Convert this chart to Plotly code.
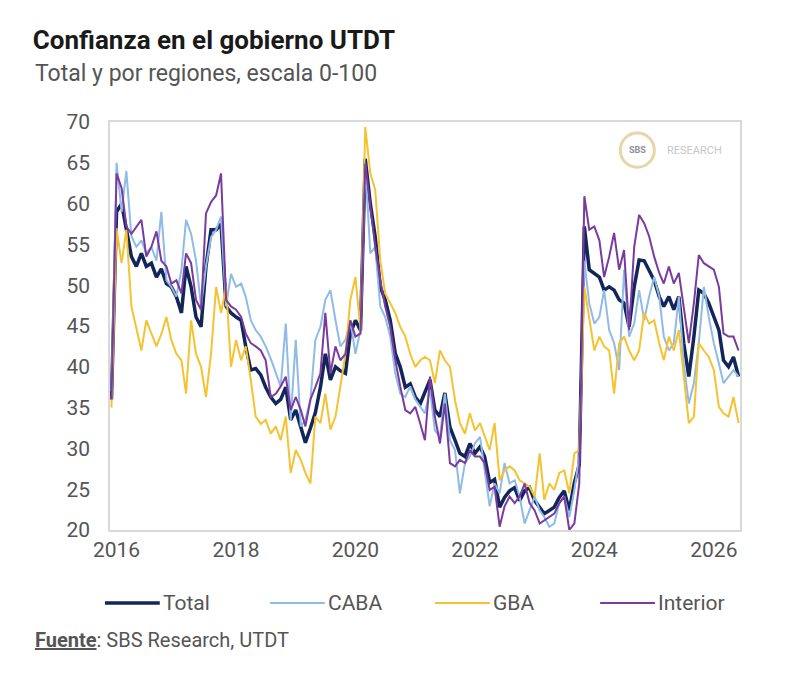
import pandas as pd
import plotly.graph_objects as go

# monthly values, Dec 2015 .. Jun 2026 (first point is the pre-change level)
months = pd.date_range("2015-12-01", periods=127, freq="MS")

total = [
    36, 59, 60, 56.8, 53.5, 52.3, 53.9, 52.3, 52.7, 51, 52, 50.2, 49.8, 48.6, 46.6, 52.3, 49.8, 46.1, 44.9, 52.3, 56.8, 56.8, 57.5, 47.4, 46.6, 46.1, 45.7, 42.5, 39.6, 39.8, 39,
    37.5, 36.3, 35.5, 36, 37.5, 33.5, 34.7, 32.6, 30.7, 32.5, 34.4, 37.5, 41.6, 38.4, 40, 39.5, 39.2, 44.1, 45.7, 44.5, 65.5, 60, 55.9, 49.8, 48.2, 45.7, 41.6, 40, 37.5, 37.9, 36.3, 35.5,
    37, 38.4, 34.7, 33.9, 36.8, 32.6, 31, 29.4, 29, 30.6, 29.4, 30.2, 29, 25.8, 26.2, 22.8, 24, 24.8, 25.2, 23.6, 24.8, 25.2, 23.6, 22.8, 22, 22.4, 22.8, 24, 24.8, 22.4, 25.8, 28,
    57.2, 51.9, 51.5, 51, 49.4, 49.8, 49.4, 48.2, 47.8, 44.9, 49.8, 53.1, 53, 51.9, 50.6, 48.6, 47.4, 48.6, 47, 48.6, 42.9, 38.8, 43.7, 49.4, 49, 47.8, 46.2, 44.5, 40.8, 40, 41.2, 38.8,
]
caba = [
    37, 65, 59, 64, 56, 54.7, 55.5, 53.9, 54.7, 53, 59, 50.6, 49.8, 48.6, 51.9, 58, 56.3, 53, 47.4, 52.3, 55.9, 56.8, 58.4, 47.4, 51.4, 49.8, 50.2, 48.6, 45.7, 44.5, 43.7,
    42.5, 41, 39.2, 37.6, 45.3, 33.5, 43.3, 32.7, 33.5, 36, 43.3, 44.9, 48.2, 49.4, 45.7, 42.5, 43.3, 45.7, 41.6, 44.5, 64.9, 53.9, 54.7, 47.4, 46.1, 43.7, 39.2, 36.7, 36.3, 37.6, 36, 35.1,
    34.3, 37.2, 32.2, 31.4, 36.7, 31, 29.8, 24.5, 28.2, 29, 30.6, 31.4, 27.3, 22.9, 25.7, 24.5, 28.2, 25.7, 26.1, 24.1, 20.8, 22.4, 24.1, 22.4, 21.6, 20.4, 20.8, 23.3, 24.1, 21.6, 24.9, 29,
    53, 47.8, 45.3, 46.1, 49.4, 44.5, 42.9, 39.6, 51.9, 43.7, 45.3, 49.4, 45.7, 48.6, 51, 48.6, 43.7, 42, 42.9, 48.6, 40.4, 35.5, 38, 42.9, 49.8, 46.1, 42.9, 40.4, 38, 38.8, 39.6, 38.8,
]
gba = [
    35, 57, 52.7, 56.8, 47.4, 44.9, 42, 45.7, 44.1, 42.5, 44, 46.1, 43.3, 41.6, 40.8, 36.7, 45.7, 41.6, 40, 36.3, 41.6, 49.8, 46.6, 49.8, 40, 43.3, 40.8, 42.5, 38.4, 33.9, 33,
    33.5, 31.8, 32.7, 31, 33.9, 27, 29.8, 28.6, 27, 25.7, 33.9, 33.1, 36.7, 32.3, 33.9, 37.6, 41.6, 48.2, 51, 44.5, 69.4, 63.7, 61.7, 53, 49, 47.8, 46.6, 44.9, 43.7, 41.6, 40, 40.8,
    41.2, 40.8, 38, 42, 40.8, 40, 35.9, 33.1, 31.8, 34.3, 32.2, 33.1, 31.4, 29.8, 33.1, 26.1, 27.3, 27.8, 27.3, 26.1, 25.7, 25.3, 24.1, 29.4, 23.7, 25.7, 24.9, 27, 27.3, 24.5, 29.4, 29.8,
    49.8, 46.1, 42, 43.7, 42.5, 42, 36.7, 42.9, 43.7, 42, 40.8, 42, 46.6, 45.3, 45.7, 42.9, 40.8, 43.7, 42, 44.5, 39.2, 33.1, 33.9, 42.9, 42, 41.2, 39.6, 35.1, 34.3, 33.9, 36.3, 33.1,
]
interior = [
    36, 63.7, 61.9, 57.2, 56.3, 57.2, 58, 53.5, 54.7, 56.6, 53, 52.3, 50.2, 50.6, 49, 53.9, 52.7, 48.2, 47, 58.8, 60.2, 61, 63.7, 48.2, 47.4, 47, 46.1, 44.1, 42.9, 42.5, 42,
    40.8, 36.3, 36.7, 37.6, 38.8, 34.7, 36.3, 34.7, 32.7, 36, 37.5, 39.2, 46.6, 39.2, 42.5, 40.8, 41.6, 45.7, 43.7, 44.1, 64.9, 60, 54.7, 50.6, 47.4, 44.9, 40.8, 37.6, 34.7, 34.3, 35.1, 33,
    31, 38.8, 33.9, 30.6, 35.5, 28.2, 27.8, 28.6, 28.2, 29.8, 29, 29, 28.2, 24.9, 25.3, 20.4, 22.9, 24.1, 23.3, 24.1, 25.7, 23.3, 22.4, 20.8, 21.2, 21.6, 22, 23.3, 24.1, 20, 20.8, 25.7,
    60.9, 56.8, 57.2, 55.5, 51, 53.5, 56.4, 51.9, 54.3, 44.5, 54.7, 58.6, 57.6, 56, 53.5, 51.5, 50.2, 52.3, 50.2, 51.5, 47.4, 42.9, 47.8, 53.7, 52.7, 52.3, 51.9, 49.8, 44.1, 43.7, 43.7, 42,
]

series = [
    ("Total", total, "#13265a", 3.5),
    ("CABA", caba, "#8fbbe6", 2),
    ("GBA", gba, "#f5c232", 2),
    ("Interior", interior, "#7a3b9e", 2),
]

fig = go.Figure()
for name, vals, color, w in series:
    fig.add_trace(go.Scatter(x=months, y=vals, name=name, mode="lines",
                             line=dict(color=color, width=w), showlegend=False))

fig.update_layout(
    width=800, height=680,
    margin=dict(l=102, r=68, t=114, b=158),
    paper_bgcolor="white", plot_bgcolor="white",
    font=dict(family="Roboto", size=21, color="#555"),
    title=dict(text="Confianza en el gobierno UTDT", xref="container", x=0.031,
               yref="container", y=0.953, yanchor="middle",
               font=dict(size=26, color="#1a1a1a", weight="bold")),
)

fig.update_xaxes(type="date", range=["2015-11-22", "2026-06-10"],
                 tick0="2016-01-01", dtick="M24", tickformat="%Y",
                 showgrid=False, showline=True, mirror=True,
                 linecolor="#d9d9d9", linewidth=1.5, ticks="")
fig.update_yaxes(range=[20, 70], dtick=5, showgrid=False, zeroline=False,
                 showline=True, mirror=True, linecolor="#d9d9d9", linewidth=1.5,
                 ticks="", ticklabelstandoff=14)

# legend drawn by hand so the keys are as long as in the original
legend_x = [-0.008, 0.254, 0.516, 0.778]
for (name, vals, color, w), lx in zip(series, legend_x):
    fig.add_shape(type="line", xref="paper", yref="paper", x0=lx, x1=lx + 0.087,
                  y0=-0.179, y1=-0.179, line=dict(color=color, width=w))
    fig.add_annotation(text=name, xref="paper", yref="paper", x=lx + 0.089, y=-0.179,
                       xanchor="left", yanchor="middle", showarrow=False,
                       font=dict(size=21, color="#555"))

fig.add_annotation(text="Total y por regiones, escala 0-100", xref="paper", yref="paper",
                   x=-0.122, y=1.12, xanchor="left", yanchor="middle", showarrow=False,
                   font=dict(size=23, color="#555"))
fig.add_annotation(text="<b><u>Fuente</u></b>: SBS Research, UTDT", xref="paper", yref="paper",
                   x=-0.122, y=-0.27, xanchor="left", yanchor="middle", showarrow=False,
                   font=dict(size=20, color="#555"))

# SBS Research logo
fig.add_shape(type="circle", xref="paper", yref="paper",
              x0=0.837 - 0.027, x1=0.837 + 0.027, y0=0.931 - 0.042, y1=0.931 + 0.042,
              line=dict(color="#e8d6a8", width=3), fillcolor="white")
fig.add_annotation(text="<b>SBS</b>", xref="paper", yref="paper", x=0.837, y=0.931,
                   xanchor="center", yanchor="middle", showarrow=False,
                   font=dict(size=9, color="#8a8f99"))
fig.add_annotation(text="RESEARCH", xref="paper", yref="paper", x=0.881, y=0.931,
                   xanchor="left", yanchor="middle", showarrow=False,
                   font=dict(size=11, color="#c8c8c8"))

fig.write_html("out.html")
